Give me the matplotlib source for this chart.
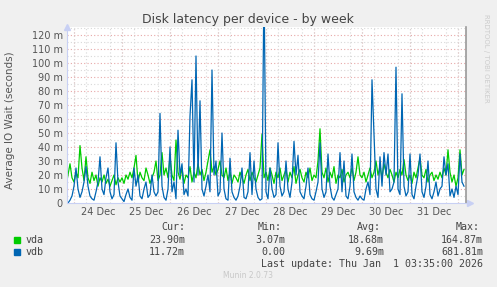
import numpy as np
import matplotlib
matplotlib.use('Agg')
import matplotlib.pyplot as plt
from matplotlib.patches import Rectangle

# hours relative to 24 Dec 00:00, one sample per hour
hours = np.arange(-4, 196)

# average IO wait in milliseconds, one row per day
vda = [12, 20, 28, 18,
       15, 22, 18, 41, 25, 16, 33, 18, 14, 22, 16, 20, 12, 18, 15, 20, 14, 17, 12, 16, 20, 13, 18, 15,
       18, 14, 20, 17, 22, 18, 25, 34, 15, 22, 18, 16, 25, 20, 14, 18, 22, 30, 16, 20, 36, 20, 25, 18,
       33, 20, 16, 45, 22, 17, 25, 14, 20, 18, 26, 15, 22, 18, 28, 20, 24, 16, 22, 30, 38, 22, 26, 20,
       24, 30, 20, 18, 25, 16, 22, 14, 20, 18, 15, 22, 18, 14, 20, 24, 16, 22, 18, 15, 20, 25, 49, 18,
       22, 16, 25, 20, 14, 22, 18, 25, 16, 20, 24, 15, 22, 18, 26, 14, 20, 24, 18, 15, 22, 18, 25, 16,
       20, 18, 30, 53, 22, 18, 25, 15, 22, 18, 26, 14, 20, 18, 24, 15, 20, 22, 18, 25, 16, 22, 33, 20,
       18, 22, 15, 20, 25, 18, 22, 30, 20, 26, 18, 28, 22, 18, 24, 20, 15, 22, 18, 24, 20, 31, 20, 16,
       20, 14, 22, 18, 25, 32, 20, 18, 24, 15, 20, 22, 16, 20, 17, 22, 18, 25, 20, 38, 22, 15, 20, 12,
       18, 38, 20, 24]
vdb = [1, 0, 2, 5,
       12, 25, 10, 4, 8, 15, 26, 12, 5, 3, 2, 8, 15, 33, 10, 6, 18, 25, 8, 3, 6, 43, 15, 5,
       3, 1, 6, 10, 4, 2, 25, 12, 20, 5, 3, 10, 15, 4, 6, 20, 8, 5, 8, 64, 12, 4, 2, 10,
       40, 8, 15, 3, 52, 20, 28, 6, 10, 5, 62, 88, 15, 105, 20, 73, 10, 5, 12, 20, 8, 95, 20, 30,
       5, 8, 50, 10, 3, 2, 32, 8, 4, 2, 5, 12, 25, 4, 3, 8, 36, 6, 30, 10, 4, 2, 3, 160,
       8, 3, 25, 10, 4, 6, 43, 12, 5, 8, 30, 10, 4, 15, 44, 20, 34, 8, 5, 3, 12, 25, 6, 3,
       2, 8, 15, 43, 10, 4, 8, 35, 12, 4, 2, 6, 10, 36, 8, 30, 5, 3, 12, 35, 8, 4, 2, 5,
       3, 2, 10, 15, 6, 88, 49, 10, 4, 33, 12, 36, 20, 35, 8, 10, 15, 97, 10, 6, 78, 12, 5, 8,
       35, 6, 3, 12, 20, 35, 8, 4, 12, 30, 6, 3, 8, 15, 5, 10, 12, 33, 20, 28, 5, 10, 4, 12,
       6, 35, 15, 12]

day_labels = ['24 Dec', '25 Dec', '26 Dec', '27 Dec', '28 Dec', '29 Dec', '30 Dec', '31 Dec']
series_names = ['vda', 'vdb']
series_colors = ['#00cc00', '#0066b3']
cur = ['23.90m', '11.72m']
mins = ['3.07m', '0.00']
avgs = ['18.68m', '9.69m']
maxs = ['164.87m', '681.81m']

W, H = 497, 287
fig = plt.figure(figsize=(W / 100, H / 100), dpi=100, facecolor='#f0f0f0')
ax = fig.add_axes([67 / W, 1 - 203 / H, (466 - 67) / W, (203 - 27) / H])
ax.set_facecolor('white')

ax.plot(hours, vda, color=series_colors[0], lw=0.9)
ax.plot(hours, vdb, color=series_colors[1], lw=0.9)

ax.set_xlim(-3.5, 196)
ax.set_ylim(0, 125.7)

# grid
ax.set_yticks(np.arange(0, 121, 10))
ax.set_yticklabels(['0'] + ['%d m' % v for v in range(10, 121, 10)])
ax.set_yticks(np.arange(5, 126, 5), minor=True)
ax.set_xticks([12 + 24 * i for i in range(len(day_labels))])
ax.set_xticklabels(day_labels)
ax.set_xticks(np.arange(0, 196, 6), minor=True)
ax.grid(which='minor', color='#d8d8d8', linestyle=(0, (1, 2)), lw=0.8)
for v in range(10, 121, 10):
    ax.axhline(v, color='#e8a8a8', linestyle=(0, (1, 2)), lw=0.8, zorder=0.5)
for d in range(0, 196, 24):
    ax.axvline(d, color='#e8a8a8', linestyle=(0, (1, 2)), lw=0.8, zorder=0.5)
ax.tick_params(which='both', length=0, labelsize=7, colors='#555555', pad=3)

ax.spines['top'].set_visible(False)
ax.spines['left'].set_color('#c8d0f4')
ax.spines['bottom'].set_color('#c8d0f4')
ax.spines['right'].set_color('#999999')
ax.spines['right'].set_linewidth(1.2)
ax.plot([0], [1.0], marker='^', color='#c8d0f4', ms=5, transform=ax.transAxes, clip_on=False)
ax.plot([1.01], [0], marker='>', color='#c8d0f4', ms=5, transform=ax.transAxes, clip_on=False)

fig.text(248 / W, 1 - 19 / H, 'Disk latency per device - by week', ha='center', va='center',
         fontsize=9, color='#444444')
fig.text(10 / W, 1 - 120 / H, 'Average IO Wait (seconds)', rotation=90, ha='center', va='center',
         fontsize=7.5, color='#555555')
fig.text(486 / W, 1 - 58 / H, 'RRDTOOL / TOBI OETIKER', rotation=270, ha='center', va='center',
         fontsize=5, color='#cccccc')

mono = dict(family='DejaVu Sans Mono', fontsize=7.2, color='#444444', va='center')
for x, t in [(185, 'Cur:'), (282, 'Min:'), (381, 'Avg:'), (480, 'Max:')]:
    fig.text(x / W, 1 - 227 / H, t, ha='right', **mono)
for i, name in enumerate(series_names):
    y = 240 + 12 * i
    fig.patches.append(Rectangle((14 / W, 1 - (y + 3) / H), 6 / W, 6 / H,
                                 transform=fig.transFigure, color=series_colors[i]))
    fig.text(26 / W, 1 - y / H, name, ha='left', **mono)
    for x, vals in [(185, cur), (285, mins), (384, avgs), (483, maxs)]:
        fig.text(x / W, 1 - y / H, vals[i], ha='right', **mono)
fig.text(483 / W, 1 - 264 / H, 'Last update: Thu Jan  1 03:35:00 2026', ha='right', **mono)
fig.text(248 / W, 1 - 276 / H, 'Munin 2.0.73', ha='center', va='center', fontsize=5.5, color='#c8c8c8')

fig.savefig('out.png', dpi=100, facecolor=fig.get_facecolor())
